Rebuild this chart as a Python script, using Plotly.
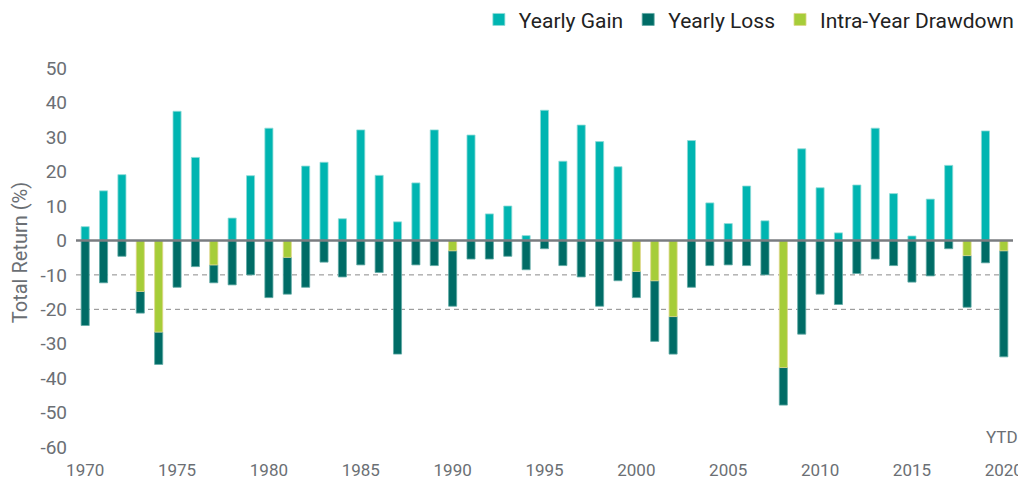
import plotly.graph_objects as go

years = list(range(1970, 2021))

# Yearly gain (positive annual return), None where the year was negative
yearly_gain = [4.0, 14.4, 19.1, None, None, 37.5, 24.1, None, 6.5, 18.8,
               32.6, None, 21.6, 22.7, 6.3, 32.1, 18.9, 5.4, 16.7, 32.1,
               None, 30.6, 7.7, 10.0, 1.4, 37.8, 23.0, 33.5, 28.7, 21.4,
               None, None, None, 29.0, 10.9, 4.9, 15.8, 5.7, None, 26.6,
               15.3, 2.2, 16.1, 32.6, 13.6, 1.3, 12.0, 21.8, None, 31.8,
               None]

# Light-green segment (from 0 downward)
intra_year = [0, 0, 0, -14.8, -26.6, 0, 0, -7.1, 0, 0,
              0, -4.9, 0, 0, 0, 0, 0, 0, 0, 0,
              -3.0, 0, 0, 0, 0, 0, 0, 0, 0, 0,
              -9.0, -11.7, -22.1, 0, 0, 0, 0, 0, -36.9, 0,
              0, 0, 0, 0, 0, 0, 0, 0, -4.4, 0,
              -3.0]

# Lowest point of the dark segment
yearly_low = [-24.7, -12.3, -4.6, -21.1, -36.0, -13.6, -7.6, -12.3, -12.9, -10.0,
              -16.6, -15.6, -13.6, -6.3, -10.6, -7.1, -9.3, -33.0, -7.1, -7.3,
              -19.1, -5.4, -5.4, -4.6, -8.5, -2.4, -7.3, -10.6, -19.1, -11.7,
              -16.6, -29.3, -33.0, -13.6, -7.3, -7.1, -7.3, -10.0, -47.8, -27.2,
              -15.6, -18.6, -9.6, -5.4, -7.3, -12.1, -10.3, -2.4, -19.4, -6.5,
              -33.8]

tick_years = list(range(1970, 2021, 5))
tick_labels = [str(y) for y in tick_years]
y_ticks = list(range(-60, 51, 10))
y_tick_labels = [str(v) for v in y_ticks]  # plain hyphen minus

C_GAIN = "#00B5B1"
C_LOSS = "#006C66"
C_DD = "#A6CD39"
FONT = "Roboto, Lato, sans-serif"
GRAY = "#6b6f74"

dark_len = [lo - dd for lo, dd in zip(yearly_low, intra_year)]
green_vals = [dd if dd != 0 else None for dd in intra_year]

fig = go.Figure()
fig.add_trace(go.Bar(x=years, y=yearly_gain, name="Yearly Gain",
                     marker=dict(color=C_GAIN, line=dict(color="#8fdcd8", width=0.8)),
                     width=0.44))
fig.add_trace(go.Bar(x=years, y=dark_len, base=intra_year, name="Yearly Loss",
                     marker=dict(color=C_LOSS, line=dict(color="#5fa9a4", width=0.8)),
                     width=0.44))
fig.add_trace(go.Bar(x=years, y=green_vals, name="Intra-Year Drawdown",
                     marker=dict(color=C_DD, line=dict(color="#e0d58a", width=0.8)),
                     width=0.44))

# reference lines
for v in [-10, -20]:
    fig.add_shape(type="line", xref="paper", x0=0, x1=0.986, yref="y", y0=v, y1=v,
                  line=dict(color="#8a8a8a", width=1, dash="5px,4px"), layer="below")
fig.add_shape(type="line", xref="paper", x0=0, x1=1, yref="y", y0=0, y1=0,
              line=dict(color="#7a7c80", width=2.5), layer="above")

fig.add_annotation(x=1.008, y=-57, xref="paper", yref="y", text="YTD", showarrow=False,
                   font=dict(family=FONT, size=17, color=GRAY), xanchor="right")

# page body adds an 8px offset; figure is sized to fill the remaining window
fig.update_layout(
    width=1018, height=472,
    margin=dict(l=68, r=13, t=43, b=26, autoexpand=False),
    paper_bgcolor="white", plot_bgcolor="white",
    barmode="overlay",
    showlegend=True,
    legend=dict(orientation="h", x=0.993, xanchor="right", xref="container",
                y=0.975, yref="container", yanchor="middle",
                font=dict(family=FONT, size=21, color="#222"),
                itemwidth=30, traceorder="normal"),
    font=dict(family=FONT, color=GRAY),
)
fig.update_xaxes(range=[1969.5, 2020.5], tickvals=tick_years, ticktext=tick_labels,
                 showgrid=False, zeroline=False, showline=False, ticks="",
                 automargin=False,
                 tickfont=dict(family=FONT, size=17, color=GRAY), ticklabelstandoff=4)
fig.update_yaxes(range=[-62, 55], tickvals=y_ticks, ticktext=y_tick_labels,
                 showgrid=False, zeroline=False, automargin=False,
                 showline=False, ticks="",
                 tickfont=dict(family=FONT, size=19, color=GRAY), ticklabelstandoff=8,
                 title=dict(text="Total Return (%)", font=dict(family=FONT, size=20, color=GRAY),
                            standoff=8))

fig.write_html("out.html")
